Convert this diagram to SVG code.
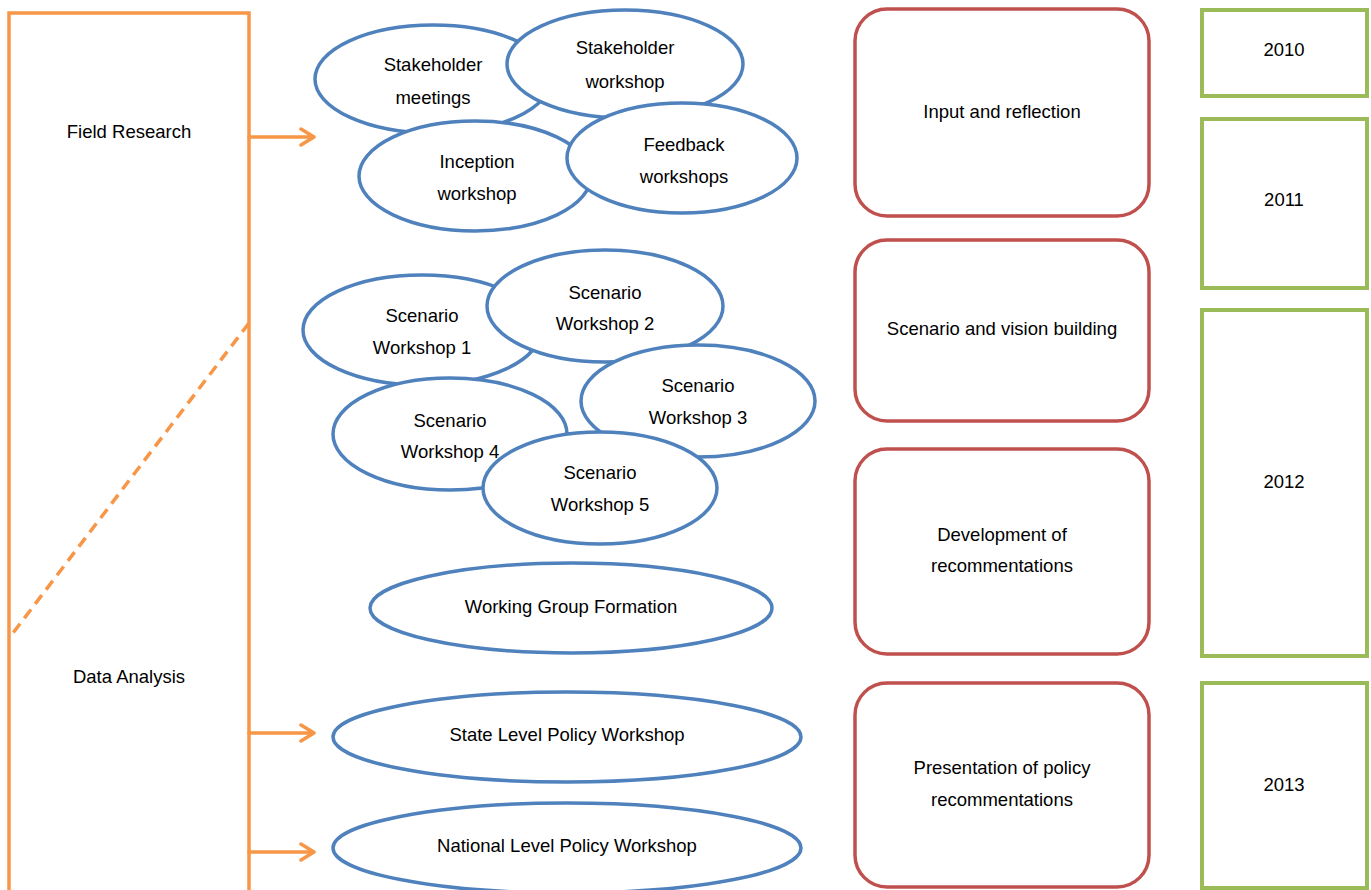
<svg xmlns="http://www.w3.org/2000/svg" width="1371" height="890" viewBox="0 0 1371 890">
<defs>
<style>
text{font-family:"Liberation Sans",Arial,sans-serif;font-size:18.5px;fill:#000;text-anchor:middle}
.ell{fill:#fff;stroke:#4F81BD;stroke-width:3.5}
.phase{fill:#fff;stroke:#C0504D;stroke-width:3.5}
.year{fill:#fff;stroke:#9BBB59;stroke-width:4}
.org{fill:none;stroke:#F79646;stroke-width:3.5}
.arr{fill:none;stroke:#F79646;stroke-width:3.5;stroke-linecap:round;stroke-linejoin:round}
</style>
</defs>
<rect width="1371" height="890" fill="#fff"/>

<g id="process-frame">
<path class="org" d="M9,890 V13 H249 V890"/>
<text x="129" y="138">Field Research</text>
<text x="129" y="683">Data Analysis</text>
</g>

<g id="connectors">
<line class="org" x1="249" y1="323" x2="10" y2="637" stroke-dasharray="11,7"/>
<path class="arr" d="M249,137 H312 M301,129 L314,137 L301,145"/>
<path class="arr" d="M249,733 H312 M301,725 L314,733 L301,741"/>
<path class="arr" d="M249,852 H312 M301,844 L314,852 L301,860"/>
</g>

<g id="stakeholder-meetings">
<ellipse class="ell" cx="433" cy="79" rx="118" ry="54"/>
<text x="433" y="71">Stakeholder</text>
<text x="433" y="104">meetings</text>
</g>
<g id="stakeholder-workshop">
<ellipse class="ell" cx="625" cy="64" rx="118" ry="54"/>
<text x="625" y="54">Stakeholder</text>
<text x="625" y="88">workshop</text>
</g>
<g id="inception-workshop">
<ellipse class="ell" cx="475" cy="176" rx="116" ry="55"/>
<text x="477" y="168">Inception</text>
<text x="477" y="200">workshop</text>
</g>
<g id="feedback-workshops">
<ellipse class="ell" cx="682" cy="158" rx="115" ry="55"/>
<text x="684" y="151">Feedback</text>
<text x="684" y="183">workshops</text>
</g>

<g id="scenario-workshop-1">
<ellipse class="ell" cx="422" cy="330" rx="119" ry="55"/>
<text x="422" y="322">Scenario</text>
<text x="422" y="354">Workshop 1</text>
</g>
<g id="scenario-workshop-2">
<ellipse class="ell" cx="605" cy="306" rx="118" ry="56"/>
<text x="605" y="299">Scenario</text>
<text x="605" y="330">Workshop 2</text>
</g>
<g id="scenario-workshop-3">
<ellipse class="ell" cx="698" cy="401" rx="117" ry="56"/>
<text x="698" y="392">Scenario</text>
<text x="698" y="424">Workshop 3</text>
</g>
<g id="scenario-workshop-4">
<ellipse class="ell" cx="450" cy="434" rx="117" ry="56"/>
<text x="450" y="427">Scenario</text>
<text x="450" y="458">Workshop 4</text>
</g>
<g id="scenario-workshop-5">
<ellipse class="ell" cx="600" cy="488" rx="117" ry="56"/>
<text x="600" y="479">Scenario</text>
<text x="600" y="511">Workshop 5</text>
</g>

<g id="working-group-formation">
<ellipse class="ell" cx="571" cy="608" rx="201" ry="45"/>
<text x="571" y="613">Working Group Formation</text>
</g>
<g id="state-level-policy-workshop">
<ellipse class="ell" cx="567" cy="737" rx="234" ry="45"/>
<text x="567" y="741">State Level Policy Workshop</text>
</g>
<g id="national-level-policy-workshop">
<ellipse class="ell" cx="567" cy="848" rx="234" ry="45"/>
<text x="567" y="852">National Level Policy Workshop</text>
</g>

<g id="input-and-reflection">
<rect class="phase" x="855" y="9" width="294" height="207" rx="32"/>
<text x="1002" y="118">Input and reflection</text>
</g>
<g id="scenario-and-vision-building">
<rect class="phase" x="855" y="240" width="294" height="181" rx="32"/>
<text x="1002" y="335">Scenario and vision building</text>
</g>
<g id="development-of-recommentations">
<rect class="phase" x="855" y="449" width="294" height="205" rx="32"/>
<text x="1002" y="541">Development of</text>
<text x="1002" y="572">recommentations</text>
</g>
<g id="presentation-of-policy-recommentations">
<rect class="phase" x="855" y="683" width="294" height="204" rx="32"/>
<text x="1002" y="774">Presentation of policy</text>
<text x="1002" y="806">recommentations</text>
</g>

<g id="year-2010">
<rect class="year" x="1202" y="10" width="165" height="86"/>
<text x="1284" y="56">2010</text>
</g>
<g id="year-2011">
<rect class="year" x="1202" y="119" width="165" height="169"/>
<text x="1284" y="206">2011</text>
</g>
<g id="year-2012">
<rect class="year" x="1202" y="310" width="165" height="346"/>
<text x="1284" y="488">2012</text>
</g>
<g id="year-2013">
<rect class="year" x="1202" y="683" width="165" height="205"/>
<text x="1284" y="791">2013</text>
</g>
</svg>
